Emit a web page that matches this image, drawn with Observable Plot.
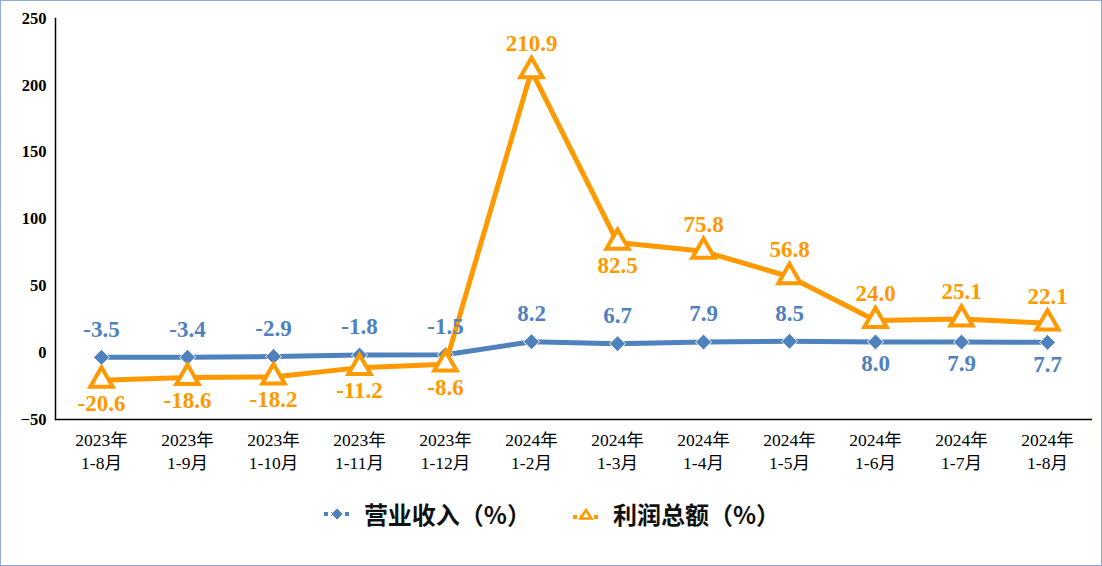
<!DOCTYPE html>
<html><head><meta charset="utf-8">
<script src="https://cdn.jsdelivr.net/npm/d3@7"></script>
<script src="https://cdn.jsdelivr.net/npm/@observablehq/plot@0.6"></script>
<style>
html,body{margin:0;padding:0;background:#fff;}
#wrap{width:1100px;height:564px;border:1px solid #8FAADC;position:relative;overflow:hidden;}
#chart{position:absolute;left:0;top:0;}
#chart svg text{font-family:"Liberation Serif","Noto Sans CJK SC",serif;}
#legend{position:absolute;left:0;top:495px;width:1100px;display:flex;justify-content:center;align-items:center;gap:40px;font-family:"Noto Sans CJK SC",sans-serif;font-weight:700;font-size:24px;color:#111;}
#legend .item{display:flex;align-items:center;gap:12px;}
</style></head>
<body><div id="wrap"><div id="chart"></div><div id="legend"></div></div>
<script>
const periods = ["2023年\n1-8月","2023年\n1-9月","2023年\n1-10月","2023年\n1-11月","2023年\n1-12月","2024年\n1-2月","2024年\n1-3月","2024年\n1-4月","2024年\n1-5月","2024年\n1-6月","2024年\n1-7月","2024年\n1-8月"];
const revenue = [-3.5,-3.4,-2.9,-1.8,-1.5,8.2,6.7,7.9,8.5,8.0,7.9,7.7];
const profit = [-20.6,-18.6,-18.2,-11.2,-8.6,210.9,82.5,75.8,56.8,24.0,25.1,22.1];
const revenueLabelPos = ["above","above","above","above","above","above","above","above","above","below","below","below"];
const profitLabelPos = ["below","below","below","below","below","above","below","above","above","above","above","above"];
const yTicks = [-50,0,50,100,150,200,250];
const seriesNames = ["营业收入（%）","利润总额（%）"];
const blue = "#4F81BD", orange = "#FF9900";

const rev = periods.map((p,i)=>({p, v: revenue[i], pos: revenueLabelPos[i]}));
const pro = periods.map((p,i)=>({p, v: profit[i], pos: profitLabelPos[i]}));
const lblFont = {fontWeight:"bold", fontSize:23};

const chart = Plot.plot({
  width: 1100, height: 495,
  marginLeft: 54, marginRight: 9, marginTop: 17, marginBottom: 77,
  x: {type:"band", domain: periods, padding: 0, label: null},
  y: {domain:[-50,250], label:null},
  style: {background:"#fff", fontFamily:"Liberation Serif, Noto Sans CJK SC, serif"},
  marks: [
    Plot.frame({anchor:"left", stroke:"#000", strokeWidth:1.5}),
    Plot.ruleY([-50], {stroke:"#000", strokeWidth:1.5}),
    Plot.axisY({ticks: yTicks, tickSize:0, tickPadding:9, fontSize:16.5, fontWeight:"bold", fill:"#000", label:null}),
    Plot.axisX({tickSize:0, tickPadding:10, fontSize:17.5, lineHeight:1.33, fill:"#000", label:null}),
    Plot.line(rev, {x:"p", y:"v", stroke:"#fff", strokeWidth:9}),
    Plot.line(rev, {x:"p", y:"v", stroke:blue, strokeWidth:5}),
    Plot.dot(rev, {x:"p", y:"v", symbol:"diamond2", r:7.2, fill:blue, stroke:"#fff", strokeWidth:1}),
    Plot.line(pro, {x:"p", y:"v", stroke:orange, strokeWidth:5}),
    Plot.dot(pro, {x:"p", y:"v", symbol:"triangle", r:8.3, fill:"#fff", stroke:orange, strokeWidth:4}),
    Plot.text(rev.filter(d=>d.pos==="above"), {x:"p", y:"v", text:d=>d.v.toFixed(1), dy:-28, fill:blue, ...lblFont}),
    Plot.text(rev.filter(d=>d.pos==="below"), {x:"p", y:"v", text:d=>d.v.toFixed(1), dy:22, fill:blue, ...lblFont}),
    Plot.text(pro.filter(d=>d.pos==="above"), {x:"p", y:"v", text:d=>d.v.toFixed(1), dy:-27, fill:orange, ...lblFont}),
    Plot.text(pro.filter(d=>d.pos==="below"), {x:"p", y:"v", text:d=>d.v.toFixed(1), dy:23, fill:orange, ...lblFont})
  ]
});
document.getElementById("chart").appendChild(chart);

const legend = document.getElementById("legend");
const markers = [
  `<svg width="30" height="16"><line x1="2" y1="8" x2="28" y2="8" stroke="${blue}" stroke-width="4" stroke-dasharray="4,3"/><path d="M15 2 L21 8 L15 14 L9 8 Z" fill="${blue}" stroke="#fff" stroke-width="1"/></svg>`,
  `<svg width="30" height="16"><line x1="2" y1="11" x2="28" y2="11" stroke="${orange}" stroke-width="4" stroke-dasharray="4,3"/><path d="M15 4 L20.5 12.5 L9.5 12.5 Z" fill="#fff" stroke="${orange}" stroke-width="2.5"/></svg>`
];
seriesNames.forEach((n,i)=>{
  const it = document.createElement("div");
  it.className = "item";
  it.innerHTML = markers[i] + `<span>${n}</span>`;
  legend.appendChild(it);
});
</script></body></html>
